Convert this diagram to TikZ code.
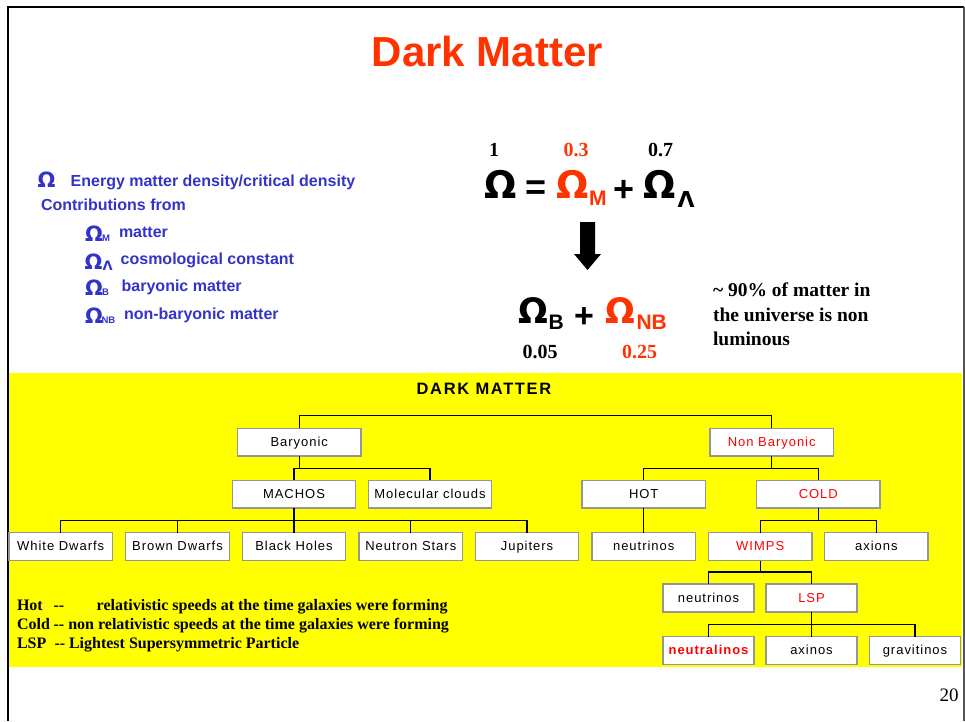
\documentclass[tikz,border=0pt]{standalone}
\usepackage{fontspec}
\setmainfont{Liberation Serif}
\setsansfont{Liberation Sans}
\newfontfamily\greekfont{DejaVu Sans}
\newfontfamily\boxfont[LetterSpace=7.5]{Liberation Sans}
\newfontfamily\dmfont[LetterSpace=10]{Liberation Sans}
\newcommand\myfs[1]{\fontsize{#1}{#1}\selectfont}
\definecolor{titlered}{RGB}{255,51,0}
\definecolor{eqred}{RGB}{255,51,0}
\definecolor{txtblue}{RGB}{51,51,204}
\definecolor{boxred}{RGB}{255,0,0}
\definecolor{boxgray}{RGB}{150,150,150}
\definecolor{framegray}{RGB}{85,85,85}
\definecolor{panelyellow}{RGB}{255,255,0}
\begin{document}
\begin{tikzpicture}[x=1pt,y=-1pt,
  every node/.style={inner sep=0pt,outer sep=0pt},
  bluetxt/.style={text=txtblue,font=\sffamily\bfseries\myfs{16},anchor=base west},
  blob/.style={text=txtblue,font=\greekfont\bfseries\myfs{21},anchor=base west},
  blobsub/.style={text=txtblue,font=\sffamily\bfseries\myfs{9.5},anchor=base west},
  eqnum/.style={font=\rmfamily\bfseries\myfs{20},anchor=base},
  bigom/.style={font=\greekfont\bfseries\myfs{38},anchor=base},
  midom/.style={font=\greekfont\bfseries\myfs{35},anchor=base},
  eqop/.style={font=\sffamily\bfseries\myfs{36},anchor=base},
  eqsub/.style={font=\sffamily\bfseries\myfs{21},anchor=base west},
  rtxt/.style={font=\rmfamily\bfseries\myfs{19.5},anchor=base west},
  leg/.style={font=\rmfamily\bfseries\myfs{16},anchor=base west},
  treebox/.style={draw=boxgray,line width=1.3pt,fill=white,minimum height=27.7,
    text height=9.5,text depth=1.5,
    font=\boxfont\myfs{13},anchor=center},
  wa/.style={minimum width=123.4},
  wb/.style={minimum width=103.5,minimum height=28},
  wc/.style={minimum width=91,minimum height=28},
  redtxt/.style={text=boxred},
  conn/.style={draw=black,line width=1.2pt}
]
\useasboundingbox (0,0) rectangle (965,721);
% frame
\draw[black,line width=2.2pt] (7.6,721) -- (7.6,7) -- (964,7);
\draw[framegray,line width=1.6pt] (964,7) -- (964,721);
% title
\node[font=\sffamily\bfseries\myfs{42},text=titlered,anchor=base] (title) at (487.5,66) {Dark Matter};
% blue legend
\node[blob] (b0) at (37.5,187) {Ω};
\node[bluetxt] (t0) at (70.7,186) {Energy matter density/critical density};
\node[bluetxt] (t1) at (41,210.7) {Contributions from};
\node[blob] (bM) at (85,241.5) {Ω};
\node[blobsub] (sM) at (102,241.5) {M};
\node[bluetxt] (tM) at (119,237.7) {matter};
\node[blob] (bL) at (84.5,269) {Ω};
\node[text=txtblue,font=\greekfont\bfseries\myfs{13},anchor=base west] (sL) at (102.5,270.5) {Λ};
\node[bluetxt] (tL) at (120.7,264) {cosmological constant};
\node[blob] (bB) at (85,295) {Ω};
\node[blobsub] (sB) at (102,295) {B};
\node[bluetxt] (tB) at (121.7,291) {baryonic matter};
\node[blob] (bNB) at (85,323) {Ω};
\node[blobsub] (sNB) at (101.5,323) {NB};
\node[bluetxt] (tNB) at (124,319) {non-baryonic matter};
% equation
\node[eqnum] (n1) at (494,156) {1};
\node[eqnum,text=eqred] (n03) at (576,156) {0.3};
\node[eqnum] (n07) at (660.5,156) {0.7};
\node[bigom] (om) at (501,198) {Ω};
\node[eqop] (eqs) at (536.5,199) {=};
\node[bigom,text=eqred] (omM) at (572.5,198) {Ω};
\node[eqsub,text=eqred] (subM) at (589,205) {M};
\node[eqop] (plus1) at (624.5,201.5) {+};
\node[bigom] (omL) at (659.5,198) {Ω};
\node[font=\greekfont\bfseries\myfs{22},anchor=base west] (subL) at (677.5,207) {Λ};
% down arrow
\fill[black] (580,222) -- (595,222) -- (595,254) -- (601,254) -- (587.5,270)
  -- (574,254) -- (580,254) -- cycle;
% second row
\node[midom] (omB) at (533,323) {Ω};
\node[eqsub] (subB) at (548.5,329) {B};
\node[eqop,font=\sffamily\bfseries\myfs{34}] (plus2) at (584,327) {+};
\node[midom,text=eqred] (omNB) at (620.5,323) {Ω};
\node[eqsub,text=eqred] (subNB) at (636.5,329) {NB};
\node[eqnum] (n005) at (540,358) {0.05};
\node[eqnum,text=eqred] (n025) at (639.5,358) {0.25};
% right text
\node[rtxt] (r1) at (713,296) {\textasciitilde{} 90\% of matter in};
\node[rtxt] (r2) at (713,321.5) {the universe is non};
\node[rtxt] (r3) at (713,345) {luminous};
% yellow panel
\fill[panelyellow] (8.7,372.5) rectangle (962,667);
\node[font=\dmfont\bfseries\myfs{16.5},anchor=base] (dm) at (484,394) {DARK MATTER};
% tree boxes
\node[treebox,wa] (bary) at (299.3,442) {Baryonic};
\node[treebox,wa,redtxt] (nonbary) at (771.7,442) {Non Baryonic};
\node[treebox,wa] (machos) at (294,494) {MACHOS};
\node[treebox,wa] (molec) at (430,494) {Molecular clouds};
\node[treebox,wa] (hot) at (643.7,494) {HOT};
\node[treebox,wa,redtxt] (cold) at (818.3,494) {COLD};
\node[treebox,wb] (wd) at (60.7,546.7) {White Dwarfs};
\node[treebox,wb] (bd) at (177.5,546.7) {Brown Dwarfs};
\node[treebox,wb] (bh) at (294,546.7) {Black Holes};
\node[treebox,wb] (ns) at (410.8,546.7) {Neutron Stars};
\node[treebox,wb] (jup) at (527,546.7) {Jupiters};
\node[treebox,wb] (neuA) at (643.7,546.7) {neutrinos};
\node[treebox,wb,redtxt] (wimps) at (760.2,546.7) {WIMPS};
\node[treebox,wb] (axions) at (876.3,546.7) {axions};
\node[treebox,wc] (neuB) at (708.5,598) {neutrinos};
\node[treebox,wc,redtxt] (lsp) at (811.5,598) {LSP};
\node[treebox,wc,redtxt,font=\boxfont\bfseries\myfs{13}] (neutralinos) at (708.5,650.5) {neutralinos};
\node[treebox,wc] (axinos) at (811.5,650.5) {axinos};
\node[treebox,wc] (gravitinos) at (915,650.5) {gravitinos};
% connectors
\draw[conn] (bary.north) -- ++(0,-12.3) -| (nonbary.north);
\draw[conn] (bary.south) -- ++(0,12.3);
\draw[conn] (machos.north) -- ++(0,-11.7) -| (molec.north);
\draw[conn] (nonbary.south) -- ++(0,12.3);
\draw[conn] (hot.north) -- ++(0,-11.7) -| (cold.north);
\draw[conn] (machos.south) -- (bh.north);
\draw[conn] (wd.north) -- ++(0,-12) -| (jup.north);
\draw[conn] (bd.north) -- ++(0,-12);
\draw[conn] (ns.north) -- ++(0,-12);
\draw[conn] (hot.south) -- (neuA.north);
\draw[conn] (cold.south) -- ++(0,13);
\draw[conn] (wimps.north) -- ++(0,-12) -| (axions.north);
\draw[conn] (wimps.south) -- ++(0,11.3);
\draw[conn] (neuB.north) -- ++(0,-12) -| (lsp.north);
\draw[conn] (lsp.south) -- (axinos.north);
\draw[conn] (neutralinos.north) -- ++(0,-12) -| (gravitinos.north);
% legend
\node[leg] (hotA) at (17,610.7) {Hot};
\node[leg] (hotB) at (53.5,610.7) {{-}{-}};
\node[leg] (hotC) at (96.7,610.7) {relativistic speeds at the time galaxies were forming};
\node[leg] (coldA) at (17,629) {Cold};
\node[leg] (coldB) at (53.5,629) {{-}{-}};
\node[leg] (coldC) at (68.3,629) {non relativistic speeds at the time galaxies were forming};
\node[leg] (lspA) at (17,648) {LSP};
\node[leg] (lspB) at (54.5,648) {{-}{-}};
\node[leg] (lspC) at (69,648) {Lightest Supersymmetric Particle};
% page number
\node[font=\rmfamily\myfs{19},anchor=base east] (pg) at (958.5,701) {20};
\end{tikzpicture}
\end{document}
